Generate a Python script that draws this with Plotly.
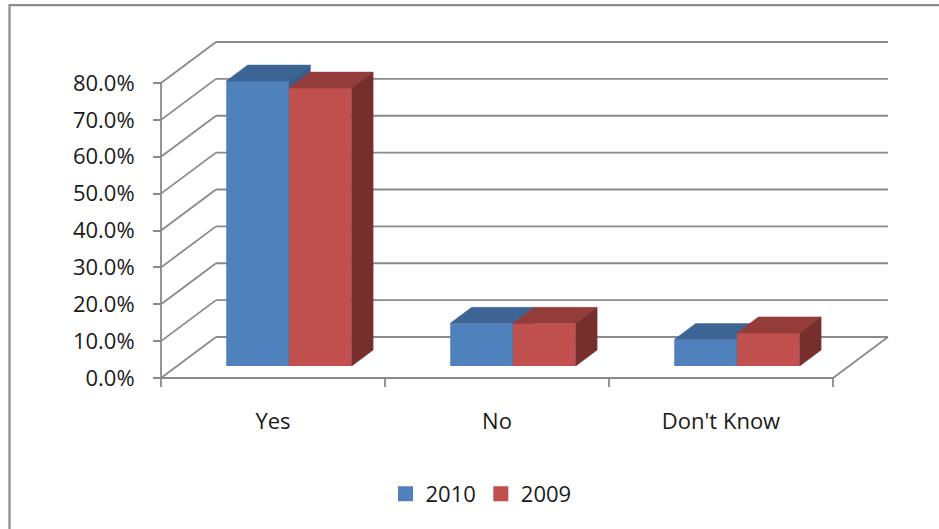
import plotly.graph_objects as go

# ---------------- data ----------------
categories = ["Yes", "No", "Don't Know"]
series_names = ["2010", "2009"]
values_2010 = [0.773, 0.116, 0.072]
values_2009 = [0.754, 0.116, 0.090]
y_tick_values = [0.0, 0.1, 0.2, 0.3, 0.4, 0.5, 0.6, 0.7, 0.8]

# ---------------- layout / style constants ----------------
W, H = 939, 529
ML, MR, MT, MB = 148, 34, 32, 137
PX_X = 224.0      # pixels per category on the front plane
PX_Y = 368.75     # pixels per 1.0 (=100 %) on the value axis
X0_PX = 161       # pixel column of x = 0 (front axis)
Y0_PX = 378       # pixel row of y = 0 (front floor edge)

plot_w = W - ML - MR
plot_h = H - MT - MB
x_lo = -(X0_PX - ML) / PX_X
x_range = [x_lo, x_lo + plot_w / PX_X]
y_lo = -((H - MB) - Y0_PX) / PX_Y
y_range = [y_lo, y_lo + plot_h / PX_Y]

DX = 55 / PX_X          # oblique depth of the walls (x units)
DY = 41 / PX_Y          # oblique depth of the walls (y units)
Z_FRONT = 0.29          # depth fraction of bar front faces
Z_BACK = 0.68           # depth fraction of bar back faces
BAR_W = 0.28            # bar width in category units
TICK_DOWN = 9 / PX_Y

GRID = "#8a8a8a"
TEXT = "#1a1a1a"
FONT = "Open Sans"

colors = {
    "2010": {"front": "#4F81BD", "top": "#3C6494", "side": "#385D8A"},
    "2009": {"front": "#C0504D", "top": "#943C3A", "side": "#772F2D"},
}

fig = go.Figure()

n = len(categories)
series = [("2010", values_2010, -1, "x", "y"), ("2009", values_2009, +1, "x2", "y2")]

bx = Z_FRONT * DX
by = Z_FRONT * DY
ddx = (Z_BACK - Z_FRONT) * DX
ddy = (Z_BACK - Z_FRONT) * DY

for name, vals, sgn, xa, ya in series:
    c = colors[name]
    centers = [i + 0.5 + sgn * BAR_W / 2 + bx for i in range(n)]
    fig.add_trace(go.Bar(
        x=centers, y=vals, base=[by] * n, width=BAR_W,
        marker=dict(color=c["front"], line=dict(width=0)),
        showlegend=False, hoverinfo="skip", xaxis=xa, yaxis=ya,
    ))
    for i, v in enumerate(vals):
        xl = centers[i] - BAR_W / 2
        xr = centers[i] + BAR_W / 2
        top = by + v
        # top face
        fig.add_trace(go.Scatter(
            x=[xl, xr, xr + ddx, xl + ddx, xl],
            y=[top, top, top + ddy, top + ddy, top],
            mode="lines", fill="toself", fillcolor=c["top"],
            line=dict(color=c["top"], width=0.5),
            showlegend=False, hoverinfo="skip", xaxis=xa, yaxis=ya,
        ))
        # right side face
        fig.add_trace(go.Scatter(
            x=[xr, xr + ddx, xr + ddx, xr, xr],
            y=[by, by + ddy, top + ddy, top, by],
            mode="lines", fill="toself", fillcolor=c["side"],
            line=dict(color=c["side"], width=0.5),
            showlegend=False, hoverinfo="skip", xaxis=xa, yaxis=ya,
        ))

# legend entries
for name in series_names:
    fig.add_trace(go.Scatter(
        x=[None], y=[None], mode="markers", name=name,
        marker=dict(symbol="square", size=15, color=colors[name]["front"]),
    ))

# ---------------- walls, floor, grid ----------------
shapes = []
line = dict(color=GRID, width=1.8)
for t in y_tick_values:
    # back wall gridline
    shapes.append(dict(type="line", xref="x", yref="y", layer="below",
                       x0=DX, y0=t + DY, x1=n + DX, y1=t + DY, line=line))
    # side wall diagonal
    shapes.append(dict(type="line", xref="x", yref="y", layer="below",
                       x0=0, y0=t, x1=DX, y1=t + DY, line=line))
# front value axis line
shapes.append(dict(type="line", xref="x", yref="y", layer="below",
                   x0=0, y0=-TICK_DOWN, x1=0, y1=y_tick_values[-1], line=line))
# front floor edge
shapes.append(dict(type="line", xref="x", yref="y", layer="below",
                   x0=0, y0=0, x1=n, y1=0, line=line))
# right floor edge
shapes.append(dict(type="line", xref="x", yref="y", layer="below",
                   x0=n, y0=0, x1=n + DX, y1=DY, line=line))
# category tick marks
for i in range(1, n + 1):
    shapes.append(dict(type="line", xref="x", yref="y", layer="below",
                       x0=i, y0=0, x1=i, y1=-TICK_DOWN, line=line))
# outer chart border (extends beyond the window)
shapes.append(dict(type="rect", xref="paper", yref="paper", layer="above",
                   x0=(9.5 - ML) / plot_w, y0=((H - MB) - 5.2) / plot_h,
                   x1=2.0, y1=-2.0,
                   line=dict(color="#8c8c8c", width=2.2)))

fig.update_layout(
    width=W, height=H,
    margin=dict(l=ML, r=MR, t=MT, b=MB, pad=0),
    paper_bgcolor="white", plot_bgcolor="white",
    barmode="overlay",
    font=dict(family=FONT, size=22, color=TEXT),
    shapes=shapes,
    showlegend=True,
    legend=dict(orientation="h", x=(481 - ML) / plot_w, xanchor="center",
                y=((H - MB) - 494) / plot_h, yanchor="middle",
                font=dict(family=FONT, size=22, color=TEXT),
                bgcolor="rgba(0,0,0,0)", itemclick=False, itemdoubleclick=False),
    xaxis=dict(range=x_range, showgrid=False, zeroline=False, showline=False,
               tickmode="array", tickvals=[i + 0.5 for i in range(n)],
               ticktext=categories, ticks="", ticklabelstandoff=14,
               tickfont=dict(family=FONT, size=22, color=TEXT), fixedrange=True),
    yaxis=dict(range=y_range, showgrid=False, zeroline=False, showline=False,
               anchor="free", position=(X0_PX - ML) / plot_w,
               tickmode="array", tickvals=y_tick_values, tickformat=".1%",
               ticks="outside", ticklen=8, tickwidth=1.8, tickcolor=GRID,
               ticklabelstandoff=14,
               tickfont=dict(family=FONT, size=22, color=TEXT), fixedrange=True),
    xaxis2=dict(range=x_range, overlaying="x", anchor="y2", visible=False,
                fixedrange=True),
    yaxis2=dict(range=y_range, overlaying="y", anchor="x2", visible=False,
                fixedrange=True),
)

fig.write_html("out.html", config={"displayModeBar": False})
